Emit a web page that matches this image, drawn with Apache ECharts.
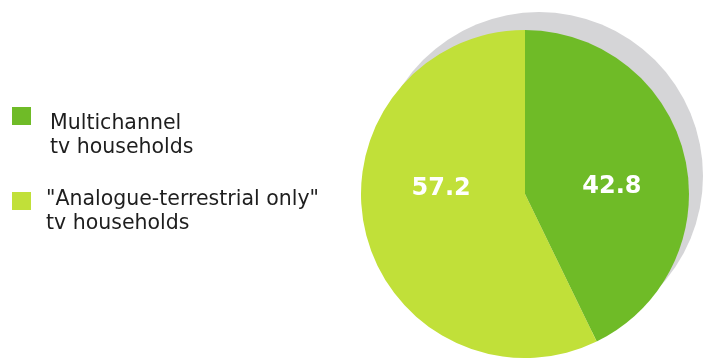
<!DOCTYPE html>
<html>
<head>
<meta charset="utf-8">
<style>
  html, body { margin: 0; padding: 0; background: #ffffff; }
  #chart { width: 704px; height: 358px; }
</style>
<script src="https://cdn.jsdelivr.net/npm/echarts@6/dist/echarts.min.js"></script>
</head>
<body>
<div id="chart"></div>
<script>
// Household shares (%)
const categories = ['Multichannel tv households', '"Analogue-terrestrial only" tv households'];
const legendLines = [['Multichannel', 'tv households'], ['"Analogue-terrestrial only"', 'tv households']];
const shares = [42.8, 57.2];

// Styling
const colors = ['#6fbb27', '#c1e039'];
const shadowColor = '#d5d5d7';
const labelOffsets = [[4, 12], [-1, -24]];
const pieCenter = [525, 194];
const pieRadius = 164;
const shadowCenter = [539, 176];
const shadowRadius = 164;

const chart = echarts.init(document.getElementById('chart'), null, { renderer: 'canvas' });

// Legend drawn as graphic elements: square swatch plus two-line caption
const legendLayout = [
  { box: [12, 107], textX: 50, textY: 112 },
  { box: [12, 192], textX: 46, textY: 188 }
];
const legendGraphics = [];
categories.forEach(function (name, i) {
  const l = legendLayout[i];
  legendGraphics.push({
    type: 'rect',
    shape: { x: l.box[0], y: l.box[1], width: 19, height: 18 },
    style: { fill: colors[i] }
  });
  legendGraphics.push({
    type: 'text',
    x: l.textX,
    y: l.textY,
    style: {
      text: legendLines[i].join('\n'),
      fill: '#1e1e1e',
      font: '20.5px "DejaVu Sans"',
      lineHeight: 24,
      verticalAlign: 'top',
      align: 'left'
    }
  });
});

const total = shares.reduce(function (a, b) { return a + b; }, 0);

chart.setOption({
  animation: false,
  backgroundColor: '#ffffff',
  graphic: legendGraphics,
  series: [
    {
      // grey disc sitting behind the pie
      type: 'pie',
      silent: true,
      z: 1,
      center: shadowCenter,
      radius: shadowRadius,
      label: { show: false },
      labelLine: { show: false },
      itemStyle: { color: shadowColor },
      data: [{ value: total, name: 'shadow' }]
    },
    {
      type: 'pie',
      z: 2,
      center: pieCenter,
      radius: pieRadius,
      startAngle: 90,
      clockwise: true,
      avoidLabelOverlap: false,
      itemStyle: { borderWidth: 0 },
      label: {
        show: true,
        position: 'inside',
        formatter: '{c}',
        color: '#ffffff',
        fontFamily: 'DejaVu Sans',
        fontWeight: 'bold',
        fontSize: 24
      },
      labelLine: { show: false },
      data: categories.map(function (name, i) {
        return {
          name: name,
          value: shares[i],
          itemStyle: { color: colors[i] },
          label: { offset: labelOffsets[i] }
        };
      })
    }
  ]
});
</script>
</body>
</html>
